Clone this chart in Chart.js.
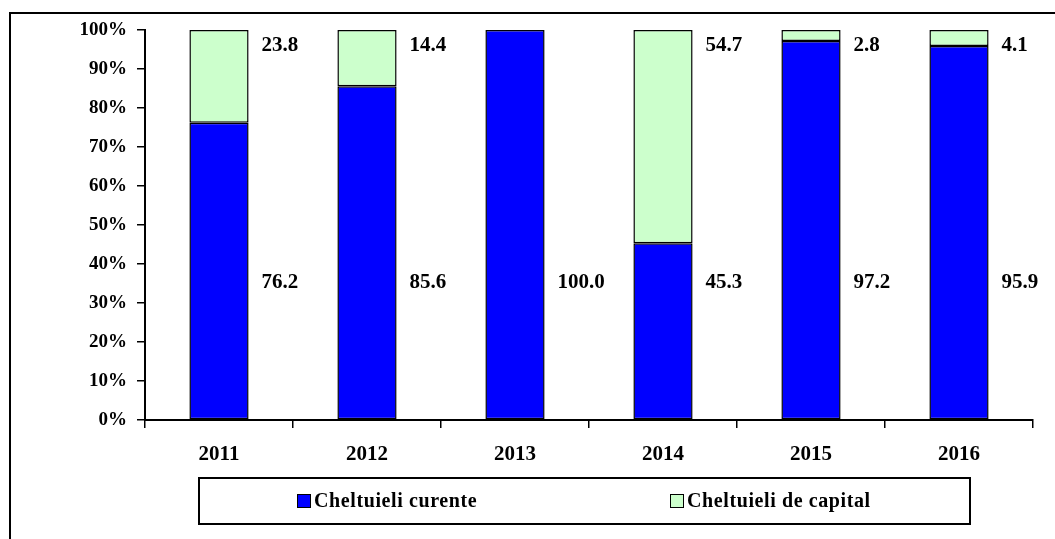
<!DOCTYPE html>
<html>
<head>
<meta charset="utf-8">
<script src="https://cdn.jsdelivr.net/npm/chart.js@4"></script>
<style>
html,body{margin:0;padding:0;background:#fff;width:1055px;height:539px;overflow:hidden;}
#wrap{position:relative;width:1055px;height:539px;}
#frame{position:absolute;left:9px;top:12px;width:1100px;height:600px;border:2px solid #000;box-sizing:border-box;}
canvas{position:absolute;left:0;top:0;}
#legend{position:absolute;left:198px;top:477px;width:773px;height:48px;border:2px solid #000;box-sizing:border-box;font:bold 20px "Liberation Serif",serif;letter-spacing:0.6px;color:#000;}
.item{position:absolute;top:10px;display:flex;align-items:center;white-space:nowrap;}
.sw{width:14px;height:14px;border:1.5px solid #000;margin-right:3px;box-sizing:border-box;}
</style>
</head>
<body>
<div id="wrap">
<div id="frame"></div>
<canvas id="c" width="1055" height="539"></canvas>
<div id="legend">
  <div class="item" style="left:97px"><span class="sw" style="background:#0000FF"></span><span id="l1"></span></div>
  <div class="item" style="left:470px"><span class="sw" style="background:#CCFFCC"></span><span id="l2"></span></div>
</div>
</div>
<script>
const categories = ["2011","2012","2013","2014","2015","2016"];
const seriesNames = ["Cheltuieli curente","Cheltuieli de capital"];
const curente = [76.2, 85.6, 100.0, 45.3, 97.2, 95.9];
const capital = [23.8, 14.4, 0, 54.7, 2.8, 4.1];
const yTicks = [0,10,20,30,40,50,60,70,80,90,100];

document.getElementById('l1').textContent = seriesNames[0];
document.getElementById('l2').textContent = seriesNames[1];

const FONT = '"Liberation Serif", "Times New Roman", serif';

const labelPlugin = {
  id: 'valueLabels',
  afterDatasetsDraw(chart) {
    const ctx = chart.ctx;
    const y = chart.scales.y;
    ctx.save();
    ctx.font = 'bold 21px ' + FONT;
    ctx.fillStyle = '#000';
    ctx.textAlign = 'left';
    ctx.textBaseline = 'middle';
    const levels = [35.2, 95.9];
    chart.data.datasets.forEach((ds, di) => {
      const meta = chart.getDatasetMeta(di);
      meta.data.forEach((bar, i) => {
        const v = ds.data[i];
        if (!v) return;
        const p = bar.getProps(['x','width'], true);
        ctx.fillText(v.toFixed(1), p.x + p.width/2 + 13, y.getPixelForValue(levels[di]));
      });
    });
    ctx.restore();
  }
};

new Chart(document.getElementById('c'), {
  type: 'bar',
  data: {
    labels: categories,
    datasets: [
      {label: seriesNames[0], data: curente, backgroundColor: '#0000FF', borderColor: '#000', borderWidth: 1.5, borderSkipped: false},
      {label: seriesNames[1], data: capital, backgroundColor: '#CCFFCC', borderColor: '#000', borderWidth: 1.5, borderSkipped: false}
    ]
  },
  options: {
    responsive: false,
    animation: false,
    layout: {padding: {left: 0, right: 22, top: 30, bottom: 0}},
    plugins: {legend: {display: false}, tooltip: {enabled: false}},
    datasets: {bar: {categoryPercentage: 1.0, barPercentage: 0.4}},
    scales: {
      x: {
        stacked: true,
        grid: {offset: true, drawOnChartArea: false, drawTicks: true, tickLength: 8, color: '#000', lineWidth: 1.5},
        border: {display: true, color: '#000', width: 2},
        ticks: {color: '#000', font: {family: FONT, weight: 'bold', size: 21}, padding: 14},
        afterFit(s) { s.height = 119; }
      },
      y: {
        stacked: true,
        min: 0, max: 100,
        afterBuildTicks(s) { s.ticks = yTicks.map(v => ({value: v})); },
        grid: {drawOnChartArea: false, drawTicks: true, tickLength: 8, color: '#000', lineWidth: 1.5},
        border: {display: true, color: '#000', width: 2},
        ticks: {color: '#000', font: {family: FONT, weight: 'bold', size: 19}, padding: 10, callback: v => v + '%'},
        afterFit(s) { s.width = 145; }
      }
    }
  },
  plugins: [labelPlugin]
});
</script>
</body>
</html>
